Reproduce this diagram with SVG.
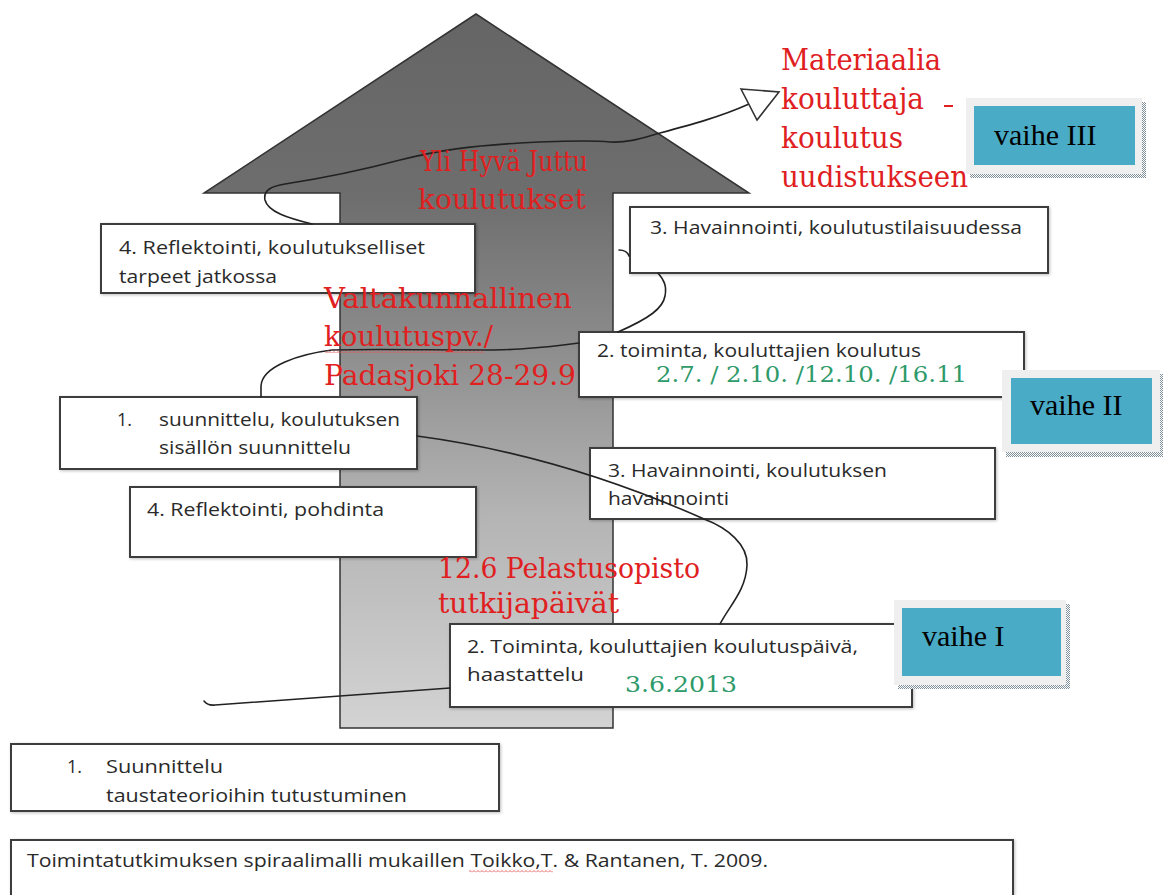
<svg xmlns="http://www.w3.org/2000/svg" width="1163" height="895" viewBox="0 0 1163 895">
<defs>
<linearGradient id="shaftGrad" gradientUnits="userSpaceOnUse" x1="0" y1="14" x2="0" y2="728">
<stop offset="0" stop-color="#656565"/>
<stop offset="0.26" stop-color="#6e6e6e"/>
<stop offset="0.45" stop-color="#8a8a8a"/>
<stop offset="0.7" stop-color="#b4b4b4"/>
<stop offset="1" stop-color="#d3d3d3"/>
</linearGradient>
<pattern id="dots" width="2" height="2" patternUnits="userSpaceOnUse">
<rect width="2" height="2" fill="#ffffff"/>
<rect width="1" height="1" fill="#7f8f9c"/>
<rect x="1" y="1" width="1" height="1" fill="#7f8f9c"/>
</pattern>
<pattern id="wavy" width="4" height="3" patternUnits="userSpaceOnUse">
<path d="M0,2.5 L2,0.5 L4,2.5" fill="none" stroke="#e05555" stroke-width="0.9"/>
</pattern>
<filter id="soft" x="-5%" y="-10%" width="110%" height="130%">
<feDropShadow dx="1" dy="1" stdDeviation="1.5" flood-color="#000" flood-opacity="0.25"/>
</filter>
</defs>
<style>
.box{fill:#ffffff;stroke:#3c3c3c;stroke-width:2;filter:url(#soft)}
.t{font-family:"Open Sans","Liberation Sans",sans-serif;font-size:18px;fill:#2a2a2a}
.red{font-family:"DejaVu Serif","Liberation Serif",serif;font-size:29px;fill:#e0201f}
.red2{font-family:"DejaVu Serif","Liberation Serif",serif;font-size:28px;fill:#e0201f}
.green{font-family:"DejaVu Serif","Liberation Serif",serif;font-size:22px;fill:#2f9a6a}
.vf{fill:#efefef}
.vs{fill:url(#dots)}
.vt{fill:#4aabc6}
.vl{font-family:"Liberation Serif","Times New Roman",serif;font-size:30px;fill:#000000}
.conn{fill:none;stroke:#222222;stroke-width:1.6;stroke-linecap:round;stroke-linejoin:round}
</style>
<rect width="1163" height="895" fill="#ffffff"/>

<g id="big-arrow">
<path d="M476,14 L749,193 L613,193 L613,728 L340,728 L340,193 L204,193 Z" fill="url(#shaftGrad)" stroke="#333333" stroke-width="1.5"/>
</g>

<g id="node-reflektointi-jatkossa">
<rect class="box" x="101" y="224" width="374" height="69"/>
<text class="t" x="119" y="254" textLength="306" lengthAdjust="spacingAndGlyphs">4. Reflektointi, koulutukselliset</text>
<text class="t" x="119" y="283" textLength="158" lengthAdjust="spacingAndGlyphs">tarpeet jatkossa</text>
</g>
<g id="node-havainnointi-tilaisuus">
<rect class="box" x="630" y="207" width="418" height="66"/>
<text class="t" x="650" y="234" textLength="372" lengthAdjust="spacingAndGlyphs">3. Havainnointi, koulutustilaisuudessa</text>
</g>
<g id="node-toiminta-koulutus">
<rect class="box" x="579" y="332" width="445" height="65"/>
<text class="t" x="597" y="357" textLength="324" lengthAdjust="spacingAndGlyphs">2. toiminta, kouluttajien koulutus</text>
<text class="green" x="656" y="382" textLength="311" lengthAdjust="spacingAndGlyphs">2.7. / 2.10. /12.10. /16.11</text>
</g>
<g id="node-suunnittelu-sisalto">
<rect class="box" x="60" y="397" width="357" height="72"/>
<text class="t" x="117" y="426">1.</text>
<text class="t" x="159" y="426" textLength="241" lengthAdjust="spacingAndGlyphs">suunnittelu, koulutuksen</text>
<text class="t" x="159" y="454" textLength="192" lengthAdjust="spacingAndGlyphs">sisällön suunnittelu</text>
</g>
<g id="node-reflektointi-pohdinta">
<rect class="box" x="130" y="487" width="346" height="70"/>
<text class="t" x="147" y="516" textLength="237" lengthAdjust="spacingAndGlyphs">4. Reflektointi, pohdinta</text>
</g>
<g id="node-havainnointi-koulutus">
<rect class="box" x="590" y="448" width="405" height="71"/>
<text class="t" x="608" y="477" textLength="279" lengthAdjust="spacingAndGlyphs">3. Havainnointi, koulutuksen</text>
<text class="t" x="608" y="505" textLength="121" lengthAdjust="spacingAndGlyphs">havainnointi</text>
</g>
<g id="node-toiminta-paiva">
<rect class="box" x="450" y="624" width="462" height="83"/>
<text class="t" x="467" y="653" textLength="391" lengthAdjust="spacingAndGlyphs">2. Toiminta, kouluttajien koulutuspäivä,</text>
<text class="t" x="467" y="681" textLength="117" lengthAdjust="spacingAndGlyphs">haastattelu</text>
<text class="green" x="625" y="692" textLength="112" lengthAdjust="spacingAndGlyphs">3.6.2013</text>
</g>
<g id="node-suunnittelu-teoriat">
<rect class="box" x="11" y="744" width="488" height="67"/>
<text class="t" x="67" y="773">1.</text>
<text class="t" x="106" y="773" textLength="117" lengthAdjust="spacingAndGlyphs">Suunnittelu</text>
<text class="t" x="106" y="802" textLength="301" lengthAdjust="spacingAndGlyphs">taustateorioihin tutustuminen</text>
</g>
<g id="node-lahde">
<rect class="box" x="11" y="840" width="1002" height="56"/>
<text class="t" x="27" y="867" textLength="741" lengthAdjust="spacingAndGlyphs">Toimintatutkimuksen spiraalimalli mukaillen Toikko,T. &amp; Rantanen, T. 2009.</text>
<rect x="469" y="869.5" width="84" height="3" fill="url(#wavy)"/>
</g>

<g id="connectors">
<path class="conn" d="M204,701 Q208,706 215,705 L450,688"/>
<path class="conn" d="M417,436 Q560,455 704,519"/>
<path class="conn" d="M704,519 C728,528 748,545 747,565 C746,590 730,605 720,624"/>
<path class="conn" d="M261,397 L261,386 C262,366 300,354 332,350 C400,348 480,352 520,349 C550,347 565,345 579,343"/>
<path class="conn" d="M658,273 C664,280 667,286 665,296 C663,308 650,318 618,332"/>
<path class="conn" d="M619,250 Q627,250 629,256"/>
<path class="conn" d="M312,224 C288,218 268,212 265,200 C263,190 272,186 285,184 C330,177 370,168 400,160 C440,150 470,146 520,143 C560,141 590,140 610,142 C630,143 645,137 660,133 C690,125 720,117 749,104"/>
<polygon points="741,89 779,92 757,120" fill="#ffffff" stroke="#333333" stroke-width="1.6" stroke-linejoin="miter"/>
</g>

<g id="label-materiaalia">
<text class="red" x="781" y="70" textLength="160" lengthAdjust="spacingAndGlyphs">Materiaalia</text>
<text class="red" x="781" y="109" textLength="143" lengthAdjust="spacingAndGlyphs">kouluttaja</text>
<text class="red" x="781" y="148" textLength="122" lengthAdjust="spacingAndGlyphs">koulutus</text>
<text class="red" x="781" y="187" textLength="187" lengthAdjust="spacingAndGlyphs">uudistukseen</text>
<line x1="944" y1="106" x2="953" y2="106" stroke="#e0201f" stroke-width="2"/>
</g>
<g id="label-ylihyva">
<text class="red2" x="420" y="171" textLength="168" lengthAdjust="spacingAndGlyphs">Yli Hyvä Juttu</text>
<text class="red2" x="418" y="209" textLength="168" lengthAdjust="spacingAndGlyphs">koulutukset</text>
</g>
<g id="label-valtakunnallinen">
<text class="red2" x="324" y="308" textLength="248" lengthAdjust="spacingAndGlyphs">Valtakunnallinen</text>
<text class="red2" x="324" y="346" textLength="169" lengthAdjust="spacingAndGlyphs">koulutuspv./</text>
<rect x="325" y="350" width="159" height="3" fill="url(#wavy)"/>
<text class="red2" x="324" y="385" textLength="252" lengthAdjust="spacingAndGlyphs">Padasjoki 28-29.9</text>
</g>
<g id="label-pelastusopisto">
<text class="red2" x="438" y="578" textLength="262" lengthAdjust="spacingAndGlyphs">12.6 Pelastusopisto</text>
<text class="red2" x="438" y="613" textLength="181" lengthAdjust="spacingAndGlyphs">tutkijapäivät</text>
</g>

<g id="vaihe-III">
<rect class="vs" x="970" y="102" width="176" height="76"/>
<rect class="vf" x="966" y="98" width="176" height="76"/>
<rect class="vt" x="974" y="106" width="161" height="59"/>
<text class="vl" x="994" y="145">vaihe III</text>
</g>
<g id="vaihe-II">
<rect class="vs" x="1006" y="374" width="160" height="83"/>
<rect class="vf" x="1002" y="370" width="158" height="82"/>
<rect class="vt" x="1011" y="378" width="141" height="66"/>
<text class="vl" x="1030" y="415">vaihe II</text>
</g>
<g id="vaihe-I">
<rect class="vs" x="898" y="604" width="172" height="85"/>
<rect class="vf" x="894" y="600" width="172" height="85"/>
<rect class="vt" x="902" y="608" width="159" height="68"/>
<text class="vl" x="922" y="646">vaihe I</text>
</g>
</svg>
